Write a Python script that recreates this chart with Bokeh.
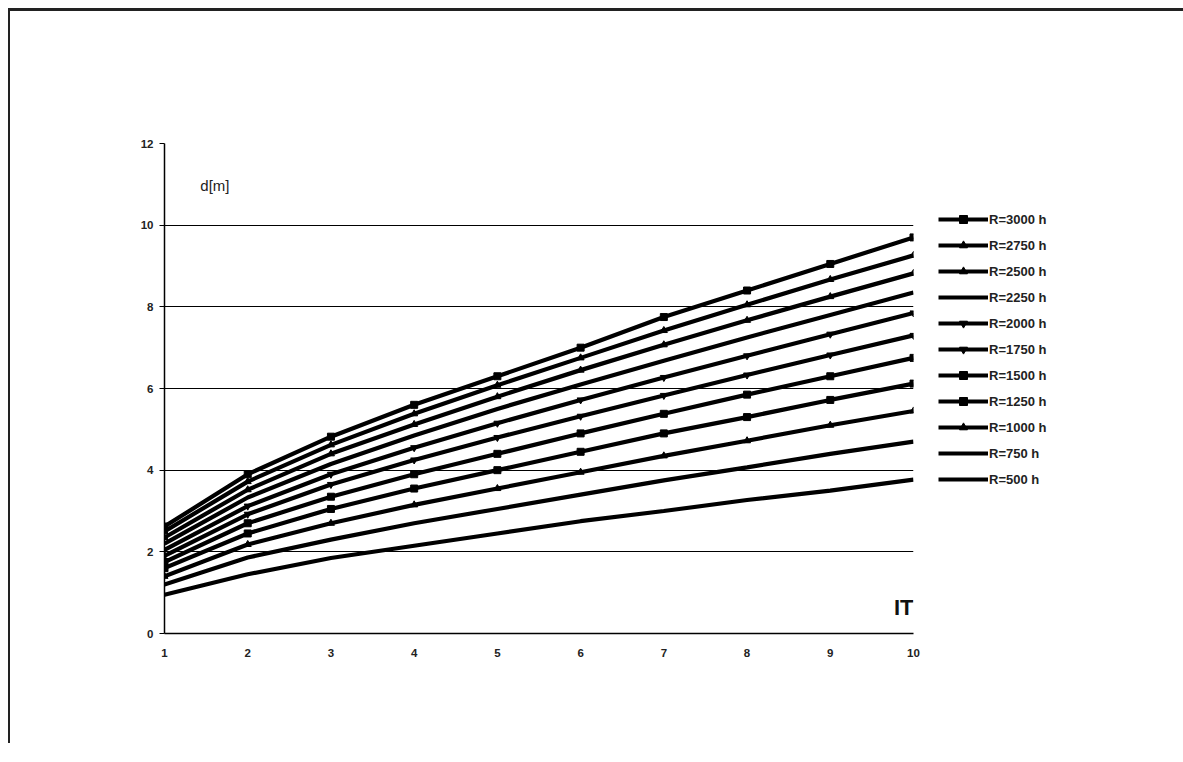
from bokeh.plotting import figure
from bokeh.models import Legend, LegendItem, Label, FixedTicker, Range1d
from bokeh.embed import file_html
from bokeh.resources import INLINE

it = [1, 2, 3, 4, 5, 6, 7, 8, 9, 10]
labels = ["R=3000 h", "R=2750 h", "R=2500 h", "R=2250 h", "R=2000 h", "R=1750 h",
          "R=1500 h", "R=1250 h", "R=1000 h", "R=750 h", "R=500 h"]
d3000 = [2.62, 3.90, 4.82, 5.60, 6.30, 7.00, 7.75, 8.40, 9.05, 9.70]
d2750 = [2.50, 3.72, 4.62, 5.38, 6.08, 6.75, 7.42, 8.05, 8.67, 9.26]
d2500 = [2.35, 3.52, 4.40, 5.12, 5.80, 6.45, 7.07, 7.67, 8.25, 8.82]
d2250 = [2.20, 3.33, 4.15, 4.85, 5.50, 6.10, 6.68, 7.25, 7.80, 8.35]
d2000 = [2.05, 3.12, 3.90, 4.55, 5.15, 5.72, 6.27, 6.80, 7.33, 7.85]
d1750 = [1.90, 2.92, 3.65, 4.25, 4.80, 5.32, 5.83, 6.33, 6.82, 7.30]
d1500 = [1.75, 2.70, 3.35, 3.90, 4.40, 4.90, 5.38, 5.85, 6.30, 6.75]
d1250 = [1.60, 2.45, 3.05, 3.55, 4.00, 4.45, 4.90, 5.30, 5.72, 6.12]
d1000 = [1.40, 2.18, 2.70, 3.15, 3.55, 3.95, 4.35, 4.72, 5.10, 5.45]
d750 = [1.20, 1.86, 2.30, 2.70, 3.05, 3.40, 3.75, 4.07, 4.40, 4.70]
d500 = [0.95, 1.45, 1.85, 2.15, 2.45, 2.75, 3.00, 3.27, 3.50, 3.77]
series = [d3000, d2750, d2500, d2250, d2000, d1750, d1500, d1250, d1000, d750, d500]
markers = ["square", "triangle", "triangle", None, "inverted_triangle", "inverted_triangle",
           "square", "square", "triangle", None, None]
y_ticks = [0, 2, 4, 6, 8, 10, 12]

FONT = "Liberation Sans"

p = figure(frame_width=749, frame_height=490,
           min_border_left=154, min_border_right=257,
           min_border_top=132, min_border_bottom=110,
           x_range=Range1d(1, 10), y_range=Range1d(0, 12),
           output_backend="svg", toolbar_location=None,
           background_fill_color="white", border_fill_color="white")
p.styles = {"border-top": "3px solid #222", "border-left": "2px solid #222",
            "margin-left": "8px", "margin-top": "8px"}
p.outline_line_color = None

p.xgrid.visible = False
p.ygrid.ticker = FixedTicker(ticks=y_ticks)
p.ygrid.grid_line_color = "black"
p.ygrid.grid_line_width = 1

p.yaxis.ticker = FixedTicker(ticks=y_ticks)
p.xaxis.ticker = FixedTicker(ticks=it)
for ax in (p.xaxis, p.yaxis):
    ax.axis_line_color = "black"
    ax.axis_line_width = 1.5
    ax.minor_tick_line_color = None
    ax.major_label_text_font = FONT
    ax.major_label_text_font_size = "11.5px"
    ax.major_label_text_color = "#222"
    ax.major_label_text_font_style = "bold"
p.yaxis.major_tick_out = 5
p.yaxis.major_tick_in = 0
p.yaxis.major_tick_line_color = "black"
p.xaxis.major_tick_out = 0
p.xaxis.major_tick_in = 0
p.xaxis.major_label_standoff = 15
p.yaxis.major_label_standoff = 6

items = []
for lab, ys, mk in zip(labels, series, markers):
    r = p.line(it, ys, line_color="black", line_width=4.2)
    rs = [r]
    if mk is not None:
        m = p.scatter(it, ys, marker=mk, size=7, fill_color="black", line_color="black")
        rs.append(m)
    items.append(LegendItem(label=lab, renderers=rs))

legend = Legend(items=items, location=(25, 144), orientation="vertical",
                glyph_width=50, glyph_height=20, spacing=6, label_standoff=1,
                padding=0, margin=0, border_line_color=None,
                background_fill_alpha=0,
                label_text_font=FONT, label_text_font_size="13px",
                label_text_font_style="bold", label_text_color="#222")
p.add_layout(legend, "right")

p.add_layout(Label(x=1.43, y=10.97, text="d[m]", text_font=FONT, text_font_size="15px",
                   text_color="#222", text_baseline="middle"))
p.add_layout(Label(x=10, y=0.64, text="IT", text_font=FONT, text_font_size="22px",
                   text_font_style="bold", text_color="#111", text_align="right",
                   text_baseline="middle"))

open("out.html", "w").write(file_html(p, INLINE))
